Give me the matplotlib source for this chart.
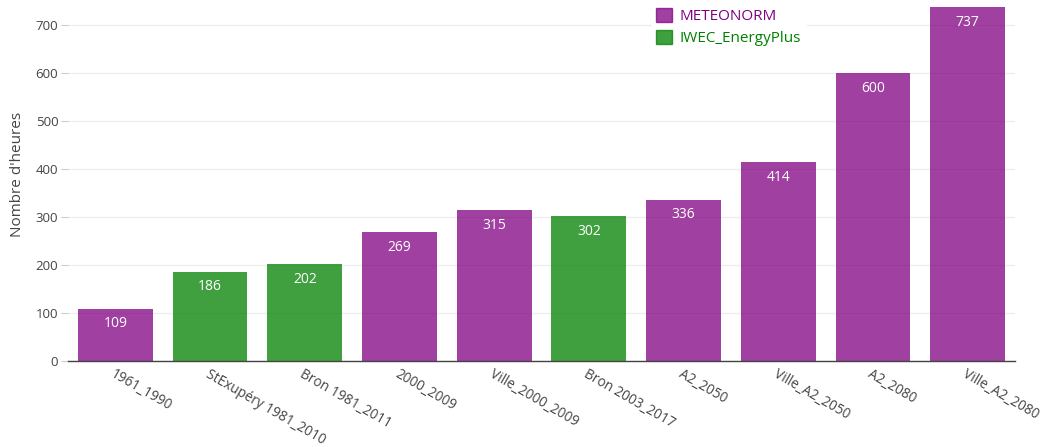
import matplotlib
matplotlib.use("Agg")
import matplotlib.pyplot as plt
from matplotlib.patches import Patch

plt.rcParams['font.family'] = ['Open Sans', 'DejaVu Sans']

categories = ["1961_1990", "StExupéry 1981_2010", "Bron 1981_2011", "2000_2009",
              "Ville_2000_2009", "Bron 2003_2017", "A2_2050", "Ville_A2_2050",
              "A2_2080", "Ville_A2_2080"]
values = [109, 186, 202, 269, 315, 302, 336, 414, 600, 737]
sources = ["METEONORM", "IWEC_EnergyPlus", "IWEC_EnergyPlus", "METEONORM",
           "METEONORM", "IWEC_EnergyPlus", "METEONORM", "METEONORM",
           "METEONORM", "METEONORM"]
yticks = [0, 100, 200, 300, 400, 500, 600, 700]
colors = {"METEONORM": "purple", "IWEC_EnergyPlus": "green"}

W, H = 1047, 447
fig = plt.figure(figsize=(W / 100, H / 100), dpi=100)
ax = fig.add_axes([68 / W, (H - 361) / H, (1015 - 68) / W, 361 / H])

x = list(range(len(categories)))
bars = ax.bar(x, values, width=0.79, color=[colors[s] for s in sources], alpha=0.75,
              zorder=2, linewidth=0)
ax.set_xlim(-0.5, len(categories) - 0.5)
ax.set_ylim(0, 752)

for xi, v in zip(x, values):
    ax.annotate(str(v), (xi, v), xytext=(0, -11), textcoords="offset points",
                ha="center", va="center", color="white", fontsize=10, zorder=3)

ax.set_yticks(yticks)
ax.set_yticklabels([str(t) for t in yticks], fontsize=9.5, color="#444444")
ax.tick_params(axis="y", length=5, color="#cccccc", pad=2)
ax.grid(axis="y", color="#eeeeee", linewidth=1, zorder=0)

ax.set_xticks(x)
ax.set_xticklabels(categories, rotation=-30, ha="left", va="top", rotation_mode="anchor",
                   fontsize=9.8, color="#444444")
ax.tick_params(axis="x", length=0, pad=4)

for s in ["top", "right", "left"]:
    ax.spines[s].set_visible(False)
ax.spines["bottom"].set_color("#444444")
ax.spines["bottom"].set_linewidth(1)
ax.spines["bottom"].set_zorder(4)

fig.text(18 / W, 1 - 174 / H, "Nombre d'heures", rotation=90, ha="center", va="center",
         fontsize=11, color="#444444")

handles = [Patch(facecolor="purple", alpha=0.75, edgecolor="purple", label="METEONORM"),
           Patch(facecolor="green", alpha=0.75, edgecolor="green", label="IWEC_EnergyPlus")]
leg = fig.legend(handles=handles, loc="upper left", bbox_to_anchor=(644 / W, 1 + 4 / H),
                 frameon=True, fancybox=False, facecolor="white", edgecolor="white",
                 framealpha=1.0, fontsize=11, handlelength=1.0, handleheight=1.0,
                 handletextpad=0.55, labelspacing=0.4, borderpad=0.3)
for t, c in zip(leg.get_texts(), ["purple", "green"]):
    t.set_color(c)

fig.savefig("out.png", dpi=100)
